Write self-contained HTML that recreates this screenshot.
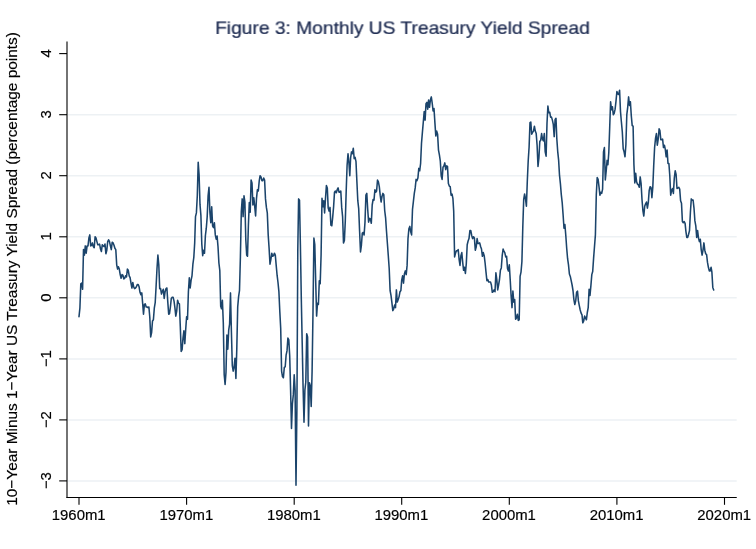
<!DOCTYPE html>
<html><head><meta charset="utf-8"><title>Figure 3</title>
<style>
html,body{margin:0;padding:0;background:#fff;}
body{width:756px;height:549px;overflow:hidden;font-family:"Liberation Sans",sans-serif;}
svg{display:block;}
text{font-family:"Liberation Sans",sans-serif;}
svg{will-change:transform;}
</style></head>
<body>
<svg width="756" height="549" viewBox="0 0 756 549">
<defs><filter id="aa" x="-5%" y="-5%" width="110%" height="110%" color-interpolation-filters="sRGB"><feOffset dx="0" dy="0"/></filter></defs>
<rect width="756" height="549" fill="#ffffff"/>
<g stroke="#edf1f4" stroke-width="1.5"><line x1="67.5" x2="736.7" y1="114.7" y2="114.7"/><line x1="67.5" x2="736.7" y1="175.7" y2="175.7"/><line x1="67.5" x2="736.7" y1="236.8" y2="236.8"/><line x1="67.5" x2="736.7" y1="297.8" y2="297.8"/><line x1="67.5" x2="736.7" y1="358.9" y2="358.9"/><line x1="67.5" x2="736.7" y1="419.9" y2="419.9"/><line x1="67.5" x2="736.7" y1="480.9" y2="480.9"/></g>
<path d="M79.0 316.7 L79.9 308.2 L80.8 283.8 L81.7 283.1 L82.6 289.3 L83.5 249.6 L84.4 255.1 L85.3 245.9 L86.2 253.2 L87.1 245.9 L88.0 245.9 L88.9 238.0 L89.8 234.9 L90.7 245.9 L91.6 245.3 L92.4 242.9 L93.3 246.5 L94.2 247.7 L95.1 236.8 L96.0 238.0 L96.9 241.6 L97.8 244.7 L98.7 244.7 L99.6 244.1 L100.5 249.0 L101.4 251.4 L102.3 244.7 L103.2 245.9 L104.1 246.5 L105.0 244.1 L105.9 253.8 L106.8 250.2 L107.7 241.6 L108.6 239.8 L109.5 241.6 L110.4 245.9 L111.3 249.6 L112.2 242.2 L113.1 242.9 L114.0 245.3 L114.9 248.3 L115.8 249.6 L116.7 264.8 L117.6 269.1 L118.4 266.7 L119.3 269.1 L120.2 274.6 L121.1 278.3 L122.0 274.6 L122.9 275.2 L123.8 278.9 L124.7 278.3 L125.6 275.8 L126.5 277.0 L127.4 269.1 L128.3 270.3 L129.2 275.8 L130.1 277.7 L131.0 283.1 L131.9 288.0 L132.8 282.5 L133.7 286.8 L134.6 288.6 L135.5 288.0 L136.4 286.8 L137.3 284.4 L138.2 284.4 L139.1 286.8 L140.0 292.3 L140.9 294.7 L141.8 292.9 L142.7 303.9 L143.5 314.3 L144.4 304.5 L145.3 303.9 L146.2 307.0 L147.1 307.0 L148.0 307.6 L148.9 307.0 L149.8 317.3 L150.7 336.9 L151.6 332.6 L152.5 321.0 L153.4 319.8 L154.3 308.2 L155.2 302.7 L156.1 286.2 L157.0 268.5 L157.9 255.1 L158.8 264.8 L159.7 288.6 L160.6 288.6 L161.5 294.1 L162.4 291.1 L163.3 289.3 L164.2 298.4 L165.1 291.7 L166.0 288.6 L166.9 288.0 L167.8 302.1 L168.7 314.3 L169.5 313.7 L170.4 307.0 L171.3 298.4 L172.2 297.2 L173.1 297.2 L174.0 300.9 L174.9 307.6 L175.8 316.1 L176.7 311.2 L177.6 300.2 L178.5 303.3 L179.4 303.9 L180.3 326.5 L181.2 351.5 L182.1 349.7 L183.0 338.1 L183.9 330.8 L184.8 343.6 L185.7 329.5 L186.6 316.7 L187.5 319.2 L188.4 291.7 L189.3 277.7 L190.2 288.0 L191.1 280.1 L192.0 275.8 L192.9 264.2 L193.8 257.5 L194.7 242.9 L195.5 216.6 L196.4 212.9 L197.3 195.8 L198.2 162.3 L199.1 175.1 L200.0 204.4 L200.9 215.4 L201.8 244.1 L202.7 255.7 L203.6 250.2 L204.5 253.2 L205.4 235.5 L206.3 228.2 L207.2 216.6 L208.1 195.8 L209.0 187.3 L209.9 212.3 L210.8 222.7 L211.7 206.8 L212.6 225.8 L213.5 227.6 L214.4 222.7 L215.3 234.9 L216.2 239.2 L217.1 236.1 L218.0 246.5 L218.9 263.0 L219.8 270.3 L220.7 306.3 L221.5 308.8 L222.4 300.2 L223.3 322.8 L224.2 374.7 L225.1 384.5 L226.0 372.3 L226.9 335.0 L227.8 349.1 L228.7 330.2 L229.6 324.1 L230.5 292.9 L231.4 331.4 L232.3 365.6 L233.2 371.1 L234.1 366.8 L235.0 358.2 L235.9 378.4 L236.8 348.5 L237.7 307.0 L238.6 296.6 L239.5 290.5 L240.4 256.9 L241.3 211.7 L242.2 198.9 L243.1 216.6 L244.0 195.8 L244.9 202.0 L245.8 239.8 L246.7 255.1 L247.5 256.3 L248.4 225.2 L249.3 202.6 L250.2 212.3 L251.1 180.0 L252.0 183.0 L252.9 205.0 L253.8 197.7 L254.7 206.2 L255.6 216.0 L256.5 198.3 L257.4 189.7 L258.3 191.0 L259.2 181.2 L260.1 175.7 L261.0 176.9 L261.9 180.6 L262.8 180.6 L263.7 178.1 L264.6 180.0 L265.5 198.9 L266.4 207.4 L267.3 212.9 L268.2 234.9 L269.1 248.3 L270.0 264.2 L270.9 259.3 L271.8 253.2 L272.6 256.3 L273.5 255.7 L274.4 253.2 L275.3 255.1 L276.2 265.4 L277.1 275.2 L278.0 282.5 L278.9 291.7 L279.8 311.2 L280.7 328.3 L281.6 371.1 L282.5 376.6 L283.4 377.8 L284.3 367.4 L285.2 366.8 L286.1 355.2 L287.0 350.9 L287.9 338.1 L288.8 339.9 L289.7 355.8 L290.6 390.0 L291.5 428.4 L292.4 404.0 L293.3 394.9 L294.2 374.7 L295.1 390.0 L296.0 485.2 L296.9 409.5 L297.8 249.6 L298.6 198.9 L299.5 200.1 L300.4 245.3 L301.3 298.4 L302.2 343.0 L303.1 387.5 L304.0 422.3 L304.9 390.0 L305.8 382.0 L306.7 333.8 L307.6 336.9 L308.5 426.0 L309.4 382.7 L310.3 385.7 L311.2 406.5 L312.1 371.1 L313.0 311.8 L313.9 238.0 L314.8 244.7 L315.7 281.3 L316.6 316.1 L317.5 303.3 L318.4 304.5 L319.3 280.7 L320.2 283.8 L321.1 254.5 L322.0 198.3 L322.9 206.8 L323.8 200.7 L324.6 212.9 L325.5 198.3 L326.4 185.5 L327.3 187.9 L328.2 208.1 L329.1 211.1 L330.0 207.4 L330.9 225.2 L331.8 225.8 L332.7 217.2 L333.6 206.8 L334.5 192.2 L335.4 191.0 L336.3 192.8 L337.2 189.7 L338.1 187.9 L339.0 192.2 L339.9 192.2 L340.8 191.0 L341.7 207.4 L342.6 216.6 L343.5 242.9 L344.4 240.4 L345.3 220.9 L346.2 191.0 L347.1 165.3 L348.0 153.7 L348.9 162.3 L349.8 175.7 L350.6 158.0 L351.5 151.9 L352.4 153.7 L353.3 148.2 L354.2 158.6 L355.1 157.4 L356.0 161.7 L356.9 181.8 L357.8 200.7 L358.7 208.7 L359.6 231.3 L360.5 252.0 L361.4 245.3 L362.3 233.1 L363.2 232.5 L364.1 234.9 L365.0 222.1 L365.9 195.2 L366.8 193.4 L367.7 209.3 L368.6 222.1 L369.5 218.4 L370.4 219.0 L371.3 223.3 L372.2 205.0 L373.1 199.5 L374.0 200.1 L374.9 189.7 L375.7 192.2 L376.6 191.0 L377.5 180.0 L378.4 181.8 L379.3 186.7 L380.2 195.2 L381.1 202.0 L382.0 196.5 L382.9 193.4 L383.8 194.6 L384.7 210.5 L385.6 217.8 L386.5 231.3 L387.4 243.5 L388.3 255.7 L389.2 268.5 L390.1 290.5 L391.0 295.4 L391.9 302.7 L392.8 310.6 L393.7 308.8 L394.6 305.1 L395.5 307.6 L396.4 289.9 L397.3 302.1 L398.2 299.6 L399.1 296.6 L400.0 291.7 L400.9 290.5 L401.7 280.1 L402.6 275.8 L403.5 283.1 L404.4 274.0 L405.3 270.9 L406.2 274.6 L407.1 265.4 L408.0 238.6 L408.9 228.8 L409.8 226.4 L410.7 231.9 L411.6 234.9 L412.5 209.3 L413.4 201.3 L414.3 193.4 L415.2 187.9 L416.1 179.4 L417.0 180.6 L417.9 178.1 L418.8 168.4 L419.7 170.8 L420.6 163.5 L421.5 143.3 L422.4 132.4 L423.3 122.0 L424.2 111.6 L425.1 120.1 L426.0 103.7 L426.9 102.4 L427.7 109.2 L428.6 100.0 L429.5 107.3 L430.4 100.0 L431.3 96.9 L432.2 103.1 L433.1 111.0 L434.0 108.5 L434.9 122.6 L435.8 136.0 L436.7 131.1 L437.6 134.2 L438.5 150.1 L439.4 154.9 L440.3 161.0 L441.2 175.7 L442.1 179.4 L443.0 167.2 L443.9 165.9 L444.8 162.9 L445.7 169.6 L446.6 165.9 L447.5 166.5 L448.4 183.6 L449.3 186.1 L450.2 186.7 L451.1 195.2 L452.0 194.0 L452.9 198.3 L453.7 211.1 L454.6 256.9 L455.5 253.2 L456.4 250.8 L457.3 250.8 L458.2 249.6 L459.1 259.3 L460.0 265.4 L460.9 255.7 L461.8 252.6 L462.7 262.4 L463.6 270.3 L464.5 267.3 L465.4 273.4 L466.3 263.6 L467.2 244.7 L468.1 241.0 L469.0 238.6 L469.9 230.6 L470.8 230.6 L471.7 235.5 L472.6 238.6 L473.5 236.8 L474.4 238.0 L475.3 250.2 L476.2 247.1 L477.1 238.6 L478.0 243.5 L478.9 243.5 L479.7 242.9 L480.6 246.5 L481.5 249.0 L482.4 256.3 L483.3 252.6 L484.2 255.7 L485.1 263.0 L486.0 272.2 L486.9 280.7 L487.8 279.5 L488.7 281.9 L489.6 281.9 L490.5 281.9 L491.4 285.0 L492.3 292.3 L493.2 291.7 L494.1 289.9 L495.0 291.7 L495.9 272.8 L496.8 279.5 L497.7 289.9 L498.6 285.0 L499.5 279.5 L500.4 270.3 L501.3 267.9 L502.2 255.7 L503.1 249.0 L504.0 251.4 L504.8 252.6 L505.7 256.9 L506.6 256.3 L507.5 268.5 L508.4 270.9 L509.3 264.8 L510.2 279.5 L511.1 295.4 L512.0 307.6 L512.9 291.1 L513.8 302.1 L514.7 299.6 L515.6 319.2 L516.5 317.9 L517.4 314.3 L518.3 320.4 L519.2 319.8 L520.1 276.4 L521.0 272.2 L521.9 261.8 L522.8 227.0 L523.7 199.5 L524.6 194.0 L525.5 198.9 L526.4 206.2 L527.3 181.2 L528.2 161.0 L529.1 147.0 L530.0 122.6 L530.8 122.0 L531.7 134.2 L532.6 132.4 L533.5 131.1 L534.4 126.2 L535.3 131.1 L536.2 133.6 L537.1 145.2 L538.0 166.5 L538.9 158.0 L539.8 141.5 L540.7 140.3 L541.6 133.6 L542.5 139.1 L543.4 140.9 L544.3 133.6 L545.2 151.9 L546.1 156.2 L547.0 123.2 L547.9 106.1 L548.8 112.8 L549.7 112.2 L550.6 117.1 L551.5 117.1 L552.4 120.1 L553.3 124.4 L554.2 136.6 L555.1 119.5 L556.0 118.3 L556.8 138.5 L557.7 151.3 L558.6 159.8 L559.5 175.1 L560.4 183.6 L561.3 194.6 L562.2 202.6 L563.1 214.8 L564.0 228.2 L564.9 224.5 L565.8 235.5 L566.7 248.3 L567.6 258.7 L568.5 264.8 L569.4 274.0 L570.3 276.4 L571.2 280.7 L572.1 285.0 L573.0 290.5 L573.9 299.6 L574.8 304.5 L575.7 300.9 L576.6 292.3 L577.5 291.1 L578.4 300.9 L579.3 305.7 L580.2 310.0 L581.1 313.1 L582.0 314.9 L582.8 322.8 L583.7 321.0 L584.6 316.1 L585.5 317.9 L586.4 319.8 L587.3 312.5 L588.2 307.6 L589.1 289.3 L590.0 295.4 L590.9 285.6 L591.8 274.6 L592.7 271.5 L593.6 258.1 L594.5 246.5 L595.4 234.9 L596.3 194.6 L597.2 177.5 L598.1 179.4 L599.0 186.7 L599.9 195.2 L600.8 192.2 L601.7 193.4 L602.6 189.1 L603.5 151.9 L604.4 147.6 L605.3 180.0 L606.2 170.8 L607.1 160.4 L607.9 164.7 L608.8 152.5 L609.7 127.5 L610.6 101.8 L611.5 109.8 L612.4 106.7 L613.3 114.7 L614.2 113.4 L615.1 109.2 L616.0 101.2 L616.9 91.5 L617.8 93.9 L618.7 94.5 L619.6 90.2 L620.5 111.6 L621.4 122.0 L622.3 131.7 L623.2 148.8 L624.1 151.9 L625.0 156.8 L625.9 144.6 L626.8 114.7 L627.7 107.3 L628.6 96.9 L629.5 105.5 L630.4 101.8 L631.3 115.9 L632.2 125.6 L633.1 126.2 L633.9 164.1 L634.8 183.0 L635.7 173.3 L636.6 181.8 L637.5 184.2 L638.4 184.9 L639.3 187.3 L640.2 176.9 L641.1 183.6 L642.0 199.5 L642.9 210.5 L643.8 216.0 L644.7 206.2 L645.6 203.8 L646.5 202.0 L647.4 208.1 L648.3 202.6 L649.2 190.4 L650.1 186.7 L651.0 187.3 L651.9 197.7 L652.8 187.3 L653.7 165.9 L654.6 147.6 L655.5 138.5 L656.4 133.6 L657.3 145.2 L658.2 139.1 L659.1 128.7 L659.9 130.5 L660.8 139.7 L661.7 139.7 L662.6 139.1 L663.5 147.6 L664.4 145.2 L665.3 149.4 L666.2 156.8 L667.1 150.1 L668.0 163.5 L668.9 163.5 L669.8 175.7 L670.7 195.2 L671.6 190.4 L672.5 188.5 L673.4 193.4 L674.3 178.1 L675.2 170.8 L676.1 174.5 L677.0 188.5 L677.9 187.9 L678.8 187.3 L679.7 189.1 L680.6 200.7 L681.5 203.2 L682.4 221.5 L683.3 222.7 L684.2 221.5 L685.1 223.3 L685.9 231.3 L686.8 237.4 L687.7 237.4 L688.6 234.3 L689.5 230.6 L690.4 212.3 L691.3 198.9 L692.2 200.1 L693.1 200.1 L694.0 208.1 L694.9 220.9 L695.8 225.8 L696.7 237.4 L697.6 230.6 L698.5 238.0 L699.4 241.6 L700.3 239.2 L701.2 249.6 L702.1 255.1 L703.0 250.2 L703.9 242.9 L704.8 250.2 L705.7 253.8 L706.6 254.5 L707.5 262.4 L708.4 267.3 L709.3 270.9 L710.2 270.9 L711.1 267.3 L711.9 272.2 L712.8 287.4 L713.7 289.9" fill="none" stroke="#1b446b" stroke-width="1.55" stroke-linejoin="round" stroke-linecap="round"/>
<g stroke="#000" stroke-width="1.1" fill="none">
<line x1="67" x2="67" y1="41.4" y2="498.05"/>
<line x1="66.45" x2="736.75" y1="497.5" y2="497.5"/>
<line x1="59.2" x2="67" y1="53.6" y2="53.6"/><line x1="59.2" x2="67" y1="114.7" y2="114.7"/><line x1="59.2" x2="67" y1="175.7" y2="175.7"/><line x1="59.2" x2="67" y1="236.8" y2="236.8"/><line x1="59.2" x2="67" y1="297.8" y2="297.8"/><line x1="59.2" x2="67" y1="358.9" y2="358.9"/><line x1="59.2" x2="67" y1="419.9" y2="419.9"/><line x1="59.2" x2="67" y1="480.9" y2="480.9"/><line x1="79.0" x2="79.0" y1="497.5" y2="504.8"/><line x1="186.6" x2="186.6" y1="497.5" y2="504.8"/><line x1="294.2" x2="294.2" y1="497.5" y2="504.8"/><line x1="401.7" x2="401.7" y1="497.5" y2="504.8"/><line x1="509.3" x2="509.3" y1="497.5" y2="504.8"/><line x1="616.9" x2="616.9" y1="497.5" y2="504.8"/><line x1="724.5" x2="724.5" y1="497.5" y2="504.8"/>
</g>
<g filter="url(#aa)">
<g font-size="14.9" fill="#000" stroke="#000" stroke-width="0.18"><text transform="translate(51.2 53.3) rotate(-90)" text-anchor="middle">4</text><text transform="translate(51.2 114.4) rotate(-90)" text-anchor="middle">3</text><text transform="translate(51.2 175.4) rotate(-90)" text-anchor="middle">2</text><text transform="translate(51.2 236.4) rotate(-90)" text-anchor="middle">1</text><text transform="translate(51.2 297.5) rotate(-90)" text-anchor="middle">0</text><text transform="translate(51.2 358.6) rotate(-90)" text-anchor="middle">−1</text><text transform="translate(51.2 419.6) rotate(-90)" text-anchor="middle">−2</text><text transform="translate(51.2 480.6) rotate(-90)" text-anchor="middle">−3</text><text x="78.7" y="519.8" text-anchor="middle">1960m1</text><text x="186.3" y="519.8" text-anchor="middle">1970m1</text><text x="293.9" y="519.8" text-anchor="middle">1980m1</text><text x="401.4" y="519.8" text-anchor="middle">1990m1</text><text x="509.0" y="519.8" text-anchor="middle">2000m1</text><text x="616.6" y="519.8" text-anchor="middle">2010m1</text><text x="724.2" y="519.8" text-anchor="middle">2020m1</text></g>
<text transform="translate(17.4 268.95) rotate(-90)" text-anchor="middle" font-size="15.4" fill="#000" stroke="#000" stroke-width="0.18">10−Year Minus 1−Year US Treasury Yield Spread (percentage points)</text>
<text transform="translate(402.4 34.0) scale(1 0.97)" text-anchor="middle" font-size="19.22" fill="#1c2a50" stroke="#1c2a50" stroke-width="0.25">Figure 3: Monthly US Treasury Yield Spread</text>
</g>
</svg>
</body></html>
